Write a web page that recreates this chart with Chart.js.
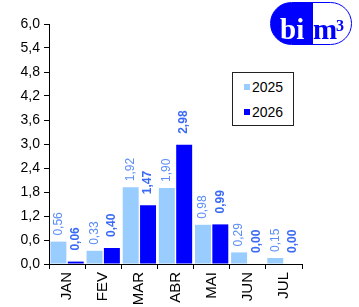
<!DOCTYPE html>
<html>
<head>
<meta charset="utf-8">
<script src="https://cdn.jsdelivr.net/npm/chart.js@4"></script>
<style>
  body { margin: 0; background: #fff; }
  #wrap { position: relative; width: 359px; height: 307px; }
  #legend {
    position: absolute; left: 232px; top: 72px; width: 60px; height: 52px;
    border: 1px solid #222; background: #fff;
    font: 14px "Liberation Sans", Arial, sans-serif; color: #000;
  }
  #legend .item { position: absolute; left: 11px; height: 16px; line-height: 16px; }
  #legend .sw { display: inline-block; width: 6px; height: 6px; margin-right: 2px; vertical-align: 2px; }
  #logo {
    position: absolute; left: 270px; top: 2px; width: 80px; height: 41px;
    border: 1.5px solid #0000ff; border-radius: 22px;
    background: linear-gradient(to right, #0000ff 52%, #fff 52%);
    font: bold 29px "Liberation Serif", "Times New Roman", serif;
    line-height: 29px;
  }
  #logo span { position: absolute; }
  #logo .bi { left: 9px; top: 12px; color: #fff; }
  #logo .m { left: 42px; top: 12px; color: #0000ff; }
  #logo .sup { left: 65px; top: 15px; font-size: 16px; line-height: 16px; color: #0000ff; }
</style>
</head>
<body>
<div id="wrap">
  <canvas id="c" width="359" height="307"></canvas>
  <div id="legend"></div>
  <div id="logo"><span class="bi">bi</span><span class="m">m</span><span class="sup">3</span></div>
</div>
<script>
// data
const months = ['JAN', 'FEV', 'MAR', 'ABR', 'MAI', 'JUN', 'JUL'];
const values2025 = [0.56, 0.33, 1.92, 1.90, 0.98, 0.29, 0.15];
const values2026 = [0.06, 0.40, 1.47, 2.98, 0.99, 0.00, 0.00];
const yTickValues = [0, 0.6, 1.2, 1.8, 2.4, 3.0, 3.6, 4.2, 4.8, 5.4, 6.0];

const lightBlue = '#99ccff';
const darkBlue = '#0000ff';

const fmt = (v, d) => v.toFixed(d).replace('.', ',');

// rotated value labels above each bar
const barLabels = {
  id: 'barLabels',
  afterDatasetsDraw(chart) {
    const ctx = chart.ctx;
    chart.data.datasets.forEach((ds, i) => {
      const meta = chart.getDatasetMeta(i);
      ctx.save();
      ctx.font = (i === 1 ? 'bold ' : '') + '12px "Liberation Sans", Arial, sans-serif';
      ctx.fillStyle = i === 1 ? '#3a6af5' : '#5b8cf8';
      ctx.textAlign = 'left';
      ctx.textBaseline = 'middle';
      meta.data.forEach((el, j) => {
        const gap = i === 1 ? 11 : 6;
        ctx.save();
        ctx.translate(el.x, el.y - gap);
        ctx.rotate(-Math.PI / 2);
        ctx.fillText(fmt(ds.data[j], 2), 0, 0);
        ctx.restore();
      });
      ctx.restore();
    });
  }
};

const chart = new Chart(document.getElementById('c'), {
  type: 'bar',
  data: {
    labels: months,
    datasets: [
      { label: '2025', data: values2025, backgroundColor: lightBlue },
      { label: '2026', data: values2026, backgroundColor: darkBlue }
    ]
  },
  options: {
    responsive: false,
    animation: false,
    events: [],
    layout: { padding: { top: 24, right: 57, left: 0, bottom: 0 } },
    datasets: { bar: { categoryPercentage: 0.96, barPercentage: 0.92 } },
    plugins: { legend: { display: false }, tooltip: { enabled: false } },
    scales: {
      x: {
        grid: { drawOnChartArea: false, drawTicks: true, tickLength: 5, color: '#000', offset: true },
        border: { color: '#000', width: 1 },
        ticks: {
          color: '#000', minRotation: 90, maxRotation: 90, padding: 3,
          font: { family: '"Liberation Sans", Arial, sans-serif', size: 15 }
        },
        afterFit(scale) { scale.height = 43; }
      },
      y: {
        min: 0, max: 6,
        grid: { drawOnChartArea: false, drawTicks: true, tickLength: 5, color: '#000' },
        border: { color: '#000', width: 1 },
        ticks: {
          color: '#000', padding: 4,
          font: { family: '"Liberation Sans", Arial, sans-serif', size: 14 },
          callback: v => fmt(v, 1)
        },
        afterBuildTicks(scale) { scale.ticks = yTickValues.map(v => ({ value: v })); },
        afterFit(scale) { scale.width = 49; }
      }
    }
  },
  plugins: [barLabels]
});

// legend box built from dataset labels
const legend = document.getElementById('legend');
chart.data.datasets.forEach((ds, i) => {
  const item = document.createElement('div');
  item.className = 'item';
  item.style.top = (i === 0 ? 6 : 31) + 'px';
  item.innerHTML = '<span class="sw" style="background:' + ds.backgroundColor + '"></span>' + ds.label;
  legend.appendChild(item);
});
</script>
</body>
</html>
